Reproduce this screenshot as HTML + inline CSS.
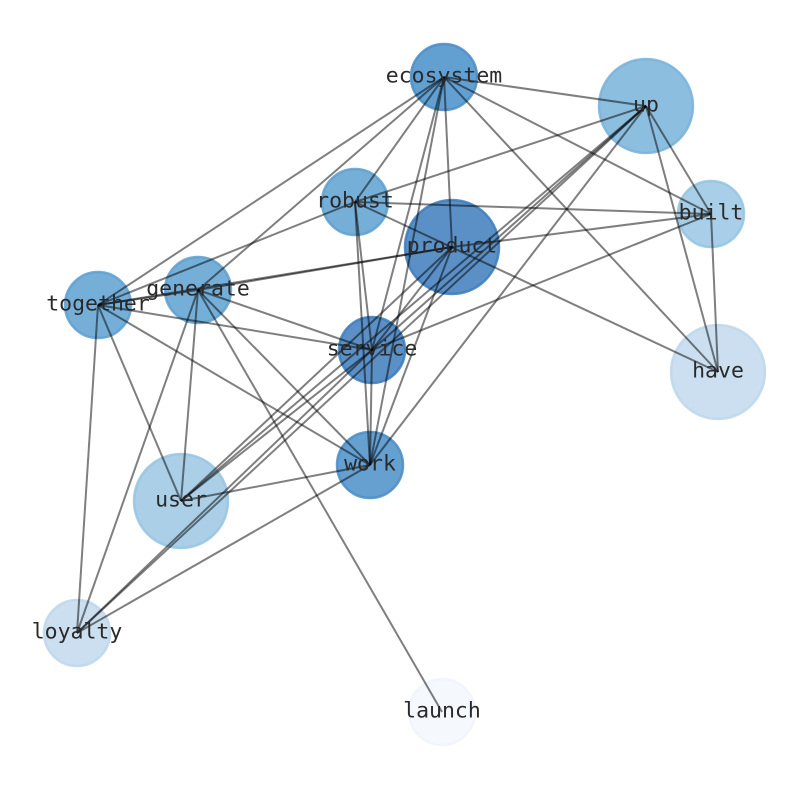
<!DOCTYPE html>
<html><head><meta charset="utf-8"><style>
html,body{margin:0;padding:0;background:#fff}
text{font-family:"DejaVu Sans Mono","Liberation Mono",monospace;font-size:21.5px;fill:#2a2a2a;text-anchor:middle;dominant-baseline:central}
</style></head><body>
<svg width="794" height="790" viewBox="0 0 794 790" xmlns="http://www.w3.org/2000/svg">
<g stroke-width="2.5" stroke-opacity="0.85">
<circle cx="444" cy="77" r="33" fill="#62a0d2" stroke="#4a8cc6"/>
<circle cx="646" cy="106" r="47" fill="#8cbfdf" stroke="#78b2da"/>
<circle cx="355" cy="202" r="33" fill="#75afd8" stroke="#5d9fd1"/>
<circle cx="452" cy="247" r="47" fill="#5a90c6" stroke="#3c7cbd"/>
<circle cx="711" cy="214" r="33" fill="#a8cfe7" stroke="#93c3e2"/>
<circle cx="98" cy="305" r="33" fill="#75afd8" stroke="#5d9fd1"/>
<circle cx="198" cy="290" r="33" fill="#75afd8" stroke="#5d9fd1"/>
<circle cx="372" cy="350" r="33" fill="#5a90c6" stroke="#3c7cbd"/>
<circle cx="718" cy="372" r="47" fill="#cbdff0" stroke="#bdd7ec"/>
<circle cx="370" cy="465" r="33" fill="#65a0d0" stroke="#4a8cc6"/>
<circle cx="181" cy="501" r="47" fill="#aacfe6" stroke="#96c4e2"/>
<circle cx="77" cy="633" r="33" fill="#cbdff0" stroke="#bdd7ec"/>
<circle cx="442" cy="712" r="33" fill="#f5f9fe" stroke="#eef5fc"/>
</g>
<g stroke="#000" stroke-opacity="0.5" stroke-width="2" fill="none">
<line x1="444" y1="77" x2="646" y2="106"/>
<line x1="444" y1="77" x2="711" y2="214"/>
<line x1="444" y1="77" x2="355" y2="202"/>
<line x1="444" y1="77" x2="452" y2="247"/>
<line x1="444" y1="77" x2="372" y2="350"/>
<line x1="444" y1="77" x2="370" y2="465"/>
<line x1="444" y1="77" x2="98" y2="305"/>
<line x1="444" y1="77" x2="198" y2="290"/>
<line x1="444" y1="77" x2="718" y2="372"/>
<line x1="646" y1="106" x2="355" y2="202"/>
<line x1="646" y1="106" x2="711" y2="214"/>
<line x1="646" y1="106" x2="718" y2="372"/>
<line x1="646" y1="106" x2="372" y2="350"/>
<line x1="646" y1="106" x2="181" y2="501"/>
<line x1="646" y1="106" x2="370" y2="465"/>
<line x1="646" y1="106" x2="77" y2="633"/>
<line x1="355" y1="202" x2="711" y2="214"/>
<line x1="355" y1="202" x2="718" y2="372"/>
<line x1="355" y1="202" x2="372" y2="350"/>
<line x1="355" y1="202" x2="370" y2="465"/>
<line x1="355" y1="202" x2="98" y2="305"/>
<line x1="452" y1="247" x2="711" y2="214"/>
<line x1="452" y1="247" x2="198" y2="290"/>
<line x1="452" y1="247" x2="98" y2="305"/>
<line x1="452" y1="247" x2="372" y2="350"/>
<line x1="452" y1="247" x2="370" y2="465"/>
<line x1="452" y1="247" x2="181" y2="501"/>
<line x1="711" y1="214" x2="718" y2="372"/>
<line x1="711" y1="214" x2="372" y2="350"/>
<line x1="98" y1="305" x2="198" y2="290"/>
<line x1="98" y1="305" x2="372" y2="350"/>
<line x1="98" y1="305" x2="370" y2="465"/>
<line x1="98" y1="305" x2="181" y2="501"/>
<line x1="98" y1="305" x2="77" y2="633"/>
<line x1="198" y1="290" x2="372" y2="350"/>
<line x1="198" y1="290" x2="370" y2="465"/>
<line x1="198" y1="290" x2="181" y2="501"/>
<line x1="198" y1="290" x2="77" y2="633"/>
<line x1="198" y1="290" x2="442" y2="712"/>
<line x1="372" y1="350" x2="370" y2="465"/>
<line x1="372" y1="350" x2="181" y2="501"/>
<line x1="372" y1="350" x2="77" y2="633"/>
<line x1="370" y1="465" x2="181" y2="501"/>
<line x1="370" y1="465" x2="77" y2="633"/>
</g>
<text x="444" y="76">ecosystem</text>
<text x="646" y="105">up</text>
<text x="355" y="201">robust</text>
<text x="452" y="246">product</text>
<text x="711" y="213">built</text>
<text x="98" y="304">together</text>
<text x="198" y="289">generate</text>
<text x="372" y="349">service</text>
<text x="718" y="371">have</text>
<text x="370" y="464">work</text>
<text x="181" y="500">user</text>
<text x="77" y="632">loyalty</text>
<text x="442" y="711">launch</text>
</svg>
</body></html>
